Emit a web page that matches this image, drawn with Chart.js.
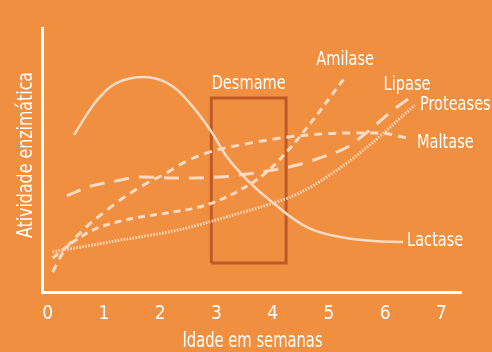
<!DOCTYPE html>
<html>
<head>
<meta charset="utf-8">
<script src="https://cdn.jsdelivr.net/npm/chart.js@4"></script>
<style>
  html, body { margin: 0; padding: 0; background: #F08F3F; }
  canvas { display: block; }
</style>
</head>
<body>
<canvas id="grafico" width="492" height="352"></canvas>
<script>
// valores (semanas, atividade relativa 0-100)
var semanas = [0, 1, 2, 3, 4, 5, 6, 7];

var lactaseX = [0.47, 0.69, 0.93, 1.23, 1.70, 2.12, 2.48, 2.89, 3.19, 3.55, 4.01, 4.61, 5.20, 5.79, 6.32];
var lactaseY = [59.5, 67.0, 73.9, 79.2, 81.4, 79.2, 72.7, 61.4, 51.1, 42.4, 33.7, 24.6, 20.8, 19.3, 18.9];

var amilaseX = [0.09, 0.45, 0.81, 1.23, 1.64, 2.12, 2.83, 3.42, 3.90, 4.36, 4.72, 5.08, 5.29];
var amilaseY = [12.9, 18.9, 23.5, 26.5, 28.4, 29.9, 33.0, 38.6, 45.5, 55.7, 65.2, 75.4, 81.4];

var maltaseX = [0.09, 0.27, 0.63, 1.06, 1.34, 1.77, 2.05, 2.41, 2.83, 3.60, 4.44, 5.33, 5.91, 6.39];
var maltaseY = [7.6, 14.8, 23.5, 31.1, 35.6, 41.3, 44.3, 48.9, 52.7, 56.4, 59.1, 60.2, 60.2, 58.3];

var lipaseX = [0.34, 0.72, 1.20, 1.68, 2.23, 3.07, 3.55, 4.01, 4.44, 4.84, 5.33, 5.73, 6.14, 6.48];
var lipaseY = [36.4, 39.8, 42.0, 43.6, 43.2, 43.6, 44.7, 46.2, 48.1, 50.8, 54.9, 61.4, 68.9, 74.2];

var proteasesX = [0.09, 1.20, 2.32, 3.42, 4.01, 4.49, 5.33, 5.91, 6.27, 6.53];
var proteasesY = [15.2, 19.3, 23.5, 29.9, 33.7, 37.6, 49.0, 59.0, 65.9, 70.8];

// janela do desmame
var desmameSemanas = [2.91, 4.24];
var desmameAtividade = [11, 73.5];

var tituloX = 'Idade em semanas';
var tituloY = 'Atividade enzimática';

var corLinha = '#FDDAC4';
var fonte = "'DejaVu Sans Condensed', 'Liberation Sans Narrow', sans-serif";

function pontos(xs, ys) {
    return xs.map(function (x, i) { return { x: x, y: ys[i] }; });
}

function serie(nome, xs, ys, dash, largura) {
    return {
        label: nome,
        data: pontos(xs, ys),
        borderColor: corLinha,
        borderWidth: largura,
        borderDash: dash,
        borderCapStyle: 'butt',
        pointRadius: 0,
        cubicInterpolationMode: 'monotone',
        fill: false
    };
}

var lactase = serie('Lactase', lactaseX, lactaseY, [], 2.5);
lactase.cubicInterpolationMode = 'default';
lactase.tension = 0.4;

var caixa = {
    label: 'Desmame',
    data: [
        { x: desmameSemanas[0], y: desmameAtividade[0] },
        { x: desmameSemanas[0], y: desmameAtividade[1] },
        { x: desmameSemanas[1], y: desmameAtividade[1] },
        { x: desmameSemanas[1], y: desmameAtividade[0] },
        { x: desmameSemanas[0], y: desmameAtividade[0] }
    ],
    borderColor: '#C15828',
    borderWidth: 3,
    borderJoinStyle: 'miter',
    pointRadius: 0,
    tension: 0,
    fill: false
};

// deslocamento dos rótulos em relação ao último ponto de cada curva
var rotulos = {
    'Amilase':   { dx: 0,  dy: -17, align: 'center' },
    'Lipase':    { dx: -5, dy: -11, align: 'center' },
    'Proteases': { dx: 5,  dy: 0,   align: 'left' },
    'Maltase':   { dx: 10, dy: 5,   align: 'left' },
    'Lactase':   { dx: 4,  dy: -1,  align: 'left' }
};

// texto estreito (a fonte original é condensada)
function texto(ctx, t, x, y, escala, angulo) {
    ctx.save();
    ctx.translate(x, y);
    if (angulo) ctx.rotate(angulo);
    ctx.scale(escala, 1);
    ctx.fillText(t, 0, 0);
    ctx.restore();
}

var pluginRotulos = {
    id: 'rotulos',
    afterDatasetsDraw: function (chart) {
        var ctx = chart.ctx;
        var area = chart.chartArea;
        ctx.save();
        ctx.fillStyle = '#FFFFFF';
        ctx.font = '20px ' + fonte;
        ctx.textBaseline = 'middle';
        chart.data.datasets.forEach(function (ds, i) {
            var meta = chart.getDatasetMeta(i);
            if (ds.label === 'Desmame') {
                var a = meta.data[1], b = meta.data[2];
                ctx.textAlign = 'center';
                texto(ctx, ds.label, (a.x + b.x) / 2, a.y - 14, 0.81);
                return;
            }
            var r = rotulos[ds.label];
            var ult = meta.data[meta.data.length - 1];
            ctx.textAlign = r.align;
            texto(ctx, ds.label, ult.x + r.dx, ult.y + r.dy, 0.81);
        });

        // títulos dos eixos
        ctx.textAlign = 'center';
        ctx.textBaseline = 'alphabetic';
        ctx.font = '21px ' + fonte;
        texto(ctx, tituloX, (area.left + area.right) / 2 + 1, area.bottom + 55, 0.78);
        ctx.font = '22px ' + fonte;
        texto(ctx, tituloY, area.left - 10, 155, 0.8, -Math.PI / 2);
        ctx.restore();
    }
};

new Chart(document.getElementById('grafico'), {
    type: 'line',
    data: {
        datasets: [
            lactase,
            serie('Amilase', amilaseX, amilaseY, [7, 5], 3),
            serie('Maltase', maltaseX, maltaseY, [8, 6], 3),
            serie('Lipase', lipaseX, lipaseY, [15, 10], 3),
            serie('Proteases', proteasesX, proteasesY, [1.5, 1.5], 3),
            caixa
        ]
    },
    options: {
        responsive: false,
        animation: false,
        devicePixelRatio: 1,
        layout: { padding: { top: 28, right: 31, bottom: 0, left: 0 } },
        plugins: {
            legend: { display: false },
            tooltip: { enabled: false }
        },
        scales: {
            x: {
                type: 'linear',
                min: -0.1,
                max: 7.35,
                afterBuildTicks: function (s) {
                    s.ticks = semanas.map(function (v) { return { value: v }; });
                },
                afterFit: function (s) { s.height = 60; },
                grid: { display: false, drawTicks: false },
                border: { color: '#FFFFFF', width: 3 },
                ticks: {
                    color: '#FFFFFF',
                    font: { family: fonte, size: 19 },
                    padding: 11,
                    maxRotation: 0
                }
            },
            y: {
                min: 0,
                max: 100,
                afterFit: function (s) { s.width = 42; },
                grid: { display: false, drawTicks: false },
                border: { color: '#FFFFFF', width: 3 },
                ticks: { display: false }
            }
        }
    },
    plugins: [pluginRotulos]
});
</script>
</body>
</html>
